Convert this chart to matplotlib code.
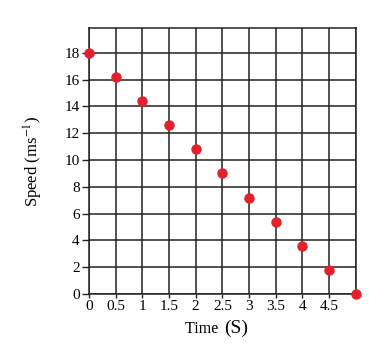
import matplotlib
matplotlib.use("Agg")
import matplotlib.pyplot as plt

time = [0, 0.5, 1, 1.5, 2, 2.5, 3, 3.5, 4, 4.5, 5]
speed = [18, 16.2, 14.4, 12.6, 10.8, 9.0, 7.2, 5.4, 3.6, 1.8, 0]
xticks = [0, 0.5, 1, 1.5, 2, 2.5, 3, 3.5, 4, 4.5]
xticklabels = ["0", "0.5", "1", "1.5", "2", "2.5", "3", "3.5", "4", "4.5"]
yticks = [0, 2, 4, 6, 8, 10, 12, 14, 16, 18]

plt.rcParams['font.family'] = ['Liberation Serif', 'DejaVu Serif']
plt.rcParams['mathtext.fontset'] = 'stix'
fig = plt.figure(figsize=(3.75, 3.52), dpi=100)
ax = fig.add_axes([0.237, 0.165, 0.712, 0.755])
ax.set_xlim(0, 5)
ax.set_ylim(0, 19.85)
ax.set_xticks(xticks + [5])
ax.set_xticklabels(xticklabels + [""])
ax.set_yticks(yticks)
ax.grid(True, color="#222222", linewidth=1.1)
for s in ax.spines.values():
    s.set_color("#222222")
    s.set_linewidth(1.1)
ax.tick_params(axis="y", length=5, width=1, color="#222222", labelsize=11, pad=1.5)
ax.tick_params(axis="x", length=3, width=1, color="#222222", labelsize=11, pad=1.5)
ax.plot(time, speed, 'o', color="#e3202b", markersize=6.5, clip_on=False, zorder=5)

# x label: "Time" with larger parenthesised unit
fig.text(222 / 375, 1 - 333 / 352, "Time ", fontsize=11.5, ha="right", va="baseline")
fig.text(236 / 375, 1 - 333 / 352, "(S)", fontsize=14, ha="center", va="baseline")

# y label
ax.set_ylabel("Speed (ms$^{-1}$)", fontsize=12, labelpad=14)
fig.savefig("out.png", dpi=100)
